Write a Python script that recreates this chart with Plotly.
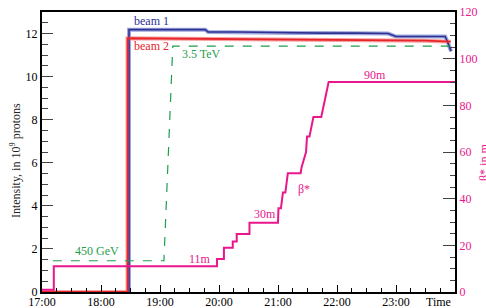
import plotly.graph_objects as go

# ---------------- data ----------------
beam1_time = ["17:00", "18:28.5", "18:28.5", "18:50", "19:20", "19:46", "19:49", "20:20", "20:48",
              "21:15", "21:45", "22:20", "22:52", "23:00", "23:50", "23:53", "23:56"]
beam1_val = [0, 0, 12.18, 12.19, 12.18, 12.18, 12.07, 12.07, 12.05,
             12.03, 12.02, 12.02, 12.00, 11.86, 11.86, 11.55, 11.18]

beam2_time = ["17:00", "18:27", "18:27", "19:30", "20:30", "21:30", "22:30", "23:30", "23:55.5"]
beam2_val = [0, 0, 11.78, 11.76, 11.74, 11.72, 11.70, 11.67, 11.62]

energy_time = ["17:11", "19:04", "19:13", "24:00"]
energy_val = [1.45, 1.45, 11.42, 11.42]   # drawn on the intensity scale

beta_time = ["17:00", "17:12", "17:12", "19:58", "19:58", "20:05", "20:05", "20:14", "20:14",
             "20:18", "20:18", "20:31", "20:31", "21:00", "21:00.5", "21:03", "21:05", "21:07.5",
             "21:10", "21:23", "21:24", "21:28.5", "21:29.5", "21:32", "21:36", "21:44", "21:51.5",
             "24:00"]
beta_val = [1, 1, 11, 11, 14.1, 14.1, 19, 19, 21.6,
            21.6, 24.9, 24.9, 29.7, 29.7, 35.9, 35.9, 42.6, 42.6,
            50.9, 50.9, 53.5, 60, 66.6, 66.6, 75, 75, 90,
            90]

x_tick_hours = [17, 18, 19, 20, 21, 22, 23]
x_tick_text = ["17:00", "18:00", "19:00", "20:00", "21:00", "22:00", "23:00"]


def hours(ts):
    out = []
    for t in ts:
        h, m = t.split(":")
        out.append(int(h) + float(m) / 60.0)
    return out


BLUE = "#2e3192"
BLUE_L = "#9ea8dc"
RED = "#e8262a"
RED_L = "#f6a0a0"
GREEN = "#1f9e4c"
PINK = "#e9168c"
FONT = "Liberation Serif"

fig = go.Figure()

# halos
fig.add_trace(go.Scatter(x=hours(beam1_time), y=beam1_val, mode="lines",
                         line=dict(color=BLUE_L, width=4), hoverinfo="skip", showlegend=False))
fig.add_trace(go.Scatter(x=hours(beam2_time), y=beam2_val, mode="lines",
                         line=dict(color=RED_L, width=4), hoverinfo="skip", showlegend=False))
# cores
fig.add_trace(go.Scatter(x=hours(beam1_time), y=beam1_val, mode="lines", name="beam 1",
                         line=dict(color=BLUE, width=1.6), showlegend=False))
fig.add_trace(go.Scatter(x=hours(beam2_time), y=beam2_val, mode="lines", name="beam 2",
                         line=dict(color=RED, width=1.8), showlegend=False))
fig.add_trace(go.Scatter(x=hours(energy_time), y=energy_val, mode="lines", name="energy",
                         line=dict(color=GREEN, width=1.2, dash="dash"), showlegend=False))
fig.add_trace(go.Scatter(x=hours(beta_time), y=beta_val, mode="lines", name="beta*",
                         line=dict(color=PINK, width=2), yaxis="y2", showlegend=False))

fig.update_layout(
    width=486, height=308,
    margin=dict(l=42, r=31, t=12, b=16),
    paper_bgcolor="white", plot_bgcolor="white",
    font=dict(family=FONT, size=12, color="black"),
    xaxis=dict(range=[17, 24], tickmode="array", tickvals=x_tick_hours, ticktext=x_tick_text,
               ticks="inside", ticklen=7, tickwidth=1, tickcolor="black",
               ticklabelstandoff=-2,
               minor=dict(ticks="inside", ticklen=4, dtick=0.25, tick0=17, tickcolor="black"),
               showline=True, linecolor="black", linewidth=2, mirror=True,
               showgrid=False, zeroline=False, automargin=False,
               tickfont=dict(family=FONT, size=12, color="black")),
    yaxis=dict(range=[0, 13], dtick=2, tick0=0, ticks="inside", ticklen=11, tickwidth=1,
               tickcolor="#444",
               minor=dict(ticks="inside", ticklen=6, dtick=0.5, tick0=0, tickcolor="#444"),
               showline=True, linecolor="black", linewidth=2,
               showgrid=False, zeroline=False, automargin=False,
               tickfont=dict(family=FONT, size=12, color="black")),
    yaxis2=dict(range=[0, 120], dtick=20, tick0=0, overlaying="y", side="right",
                ticks="inside", ticklen=12, tickwidth=1, tickcolor="#444",
                minor=dict(ticks="inside", ticklen=5, dtick=5, tick0=0, tickcolor="#444"),
                showline=True, linecolor="black", linewidth=2,
                showgrid=False, zeroline=False, automargin=False,
                tickfont=dict(family=FONT, size=12, color=PINK)),
)


def note(text, x, y, color, xanchor="center", **kw):
    fig.add_annotation(text=text, x=x, y=y, xref="paper", yref="paper", showarrow=False,
                       xanchor=xanchor, yanchor="middle",
                       font=dict(family=FONT, size=12, color=color), **kw)


note("beam 1", 0.264, 0.968, BLUE)
note("beam 2", 0.264, 0.879, RED)
note("3.5 TeV", 0.385, 0.850, GREEN)
note("450 GeV", 0.133, 0.146, GREEN)
note("11m", 0.383, 0.118, PINK)
note("30m", 0.540, 0.279, PINK)
note("β*", 0.634, 0.368, PINK)
note("90m", 0.806, 0.775, PINK)
note("Time", 0.995, -0.036, "black", xanchor="right")
note("Intensity, in 10<sup>9</sup> protons", -0.0654, 0.471, "#222", textangle=-90)
note("β* in m", 1.070, 0.464, PINK, textangle=-90)

fig.write_html("out.html", config={"displayModeBar": False},
               post_script="document.body.style.margin='0';document.body.style.overflow='hidden';")
